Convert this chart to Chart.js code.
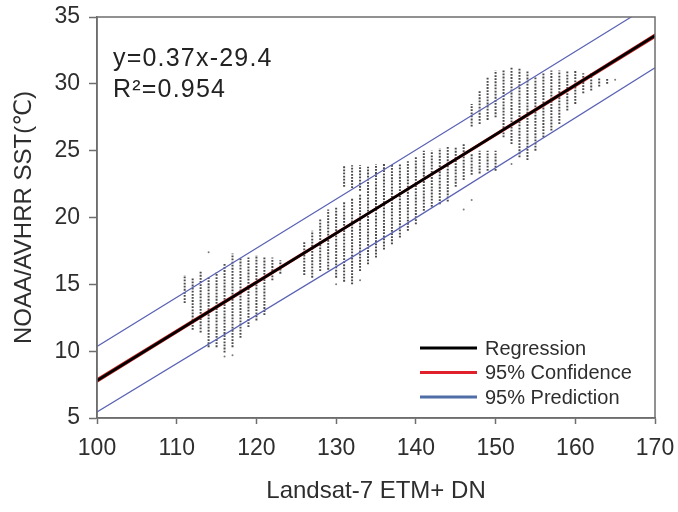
<!DOCTYPE html>
<html>
<head>
<meta charset="utf-8">
<script src="https://cdn.jsdelivr.net/npm/chart.js@4/dist/chart.umd.min.js"></script>
<style>
  html, body { margin: 0; padding: 0; background: #fff; }
  #wrap { width: 678px; height: 512px; }
</style>
</head>
<body>
<div id="wrap"><canvas id="sst_chart" width="678" height="512"></canvas></div>
<script>
// axis ranges
const xRange = [100, 170];
const yRange = [5, 35];

// dotted columns of samples: DN value, lowest and highest SST in that column
const colX = [111, 112, 113, 114, 115, 116, 117, 118, 119, 120, 121, 122, 123,
  126, 127, 128, 129, 130, 131, 131, 132, 132, 133, 133, 134, 135, 136, 137, 138, 139, 140,
  141, 142, 143, 144, 145, 146, 147, 147, 148, 148, 149, 149, 150, 150,
  151, 152, 153, 154, 155, 156, 157, 158, 159, 160, 161, 162, 163, 164];
const colLo = [13.6, 11.6, 11.4, 10.3, 10.3, 9.9, 10.3, 11.0, 11.8, 12.3, 12.7, 15.3, 15.8,
  15.7, 15.5, 16.0, 16.1, 15.5, 15.2, 22.3, 15.0, 22.2, 16.0, 22.0, 16.5, 17.0, 17.6, 18.0, 18.5, 19.0, 19.5,
  20.5, 20.8, 21.0, 21.2, 22.3, 22.8, 23.2, 26.8, 23.3, 27.0, 23.5, 27.3, 23.5, 27.5,
  26.0, 25.5, 24.5, 24.3, 25.0, 26.0, 26.5, 27.0, 28.0, 28.5, 29.3, 29.5, 29.8, 30.0];
const colHi = [15.7, 15.5, 16.0, 15.5, 15.9, 16.6, 17.3, 17.0, 17.0, 17.2, 17.0, 17.0, 16.8,
  18.2, 19.0, 19.9, 20.6, 20.8, 21.2, 23.9, 21.5, 23.9, 21.8, 23.9, 23.8, 24.0, 24.0, 24.0, 24.0, 24.2, 24.5,
  25.0, 25.0, 25.2, 25.3, 25.3, 25.5, 24.8, 28.5, 25.0, 29.5, 25.0, 30.5, 25.0, 31.0,
  31.0, 31.2, 31.2, 31.0, 30.5, 30.8, 31.0, 31.0, 31.0, 31.0, 30.8, 30.8, 30.5, 30.4];

// isolated points
const strayX = [116, 117, 114, 130, 133, 141, 146, 147, 152, 165];
const strayY = [9.6, 9.7, 17.4, 15.0, 15.3, 23.3, 20.6, 21.3, 24.0, 30.3];

// fitted lines (ends and middle)
const fitX = [100, 137, 170];
const regY = [7.8, 21.4, 33.6];
const confHiY = [7.93, 21.46, 33.73];
const confLoY = [7.67, 21.34, 33.47];
const predHiY = [10.35, 23.95, 36.1];
const predLoY = [5.45, 18.85, 31.2];

const legendItems = ["Regression", "95% Confidence", "95% Prediction"];
const legendColors = ["#000000", "#e0202a", "#4f6ea6"];

const axisColor = "#6e6e6e";
const textColor = "#2e2e2e";
const predColor = "#5a62b4";
const fontFamily = "'Liberation Sans', Arial, 'DejaVu Sans', sans-serif";

const toPoints = (xs, ys) => xs.map((x, i) => ({ x: x, y: ys[i] }));

const lineSet = (ys, color, width) => ({
  data: toPoints(fitX, ys),
  showLine: true,
  borderColor: color,
  borderWidth: width,
  pointRadius: 0,
  fill: false,
});

const columnSets = colX.map((x, i) => ({
  data: [{ x: x, y: colLo[i] }, { x: x, y: colHi[i] }],
  showLine: true,
  borderColor: "rgba(55,55,55,0.9)",
  borderWidth: 2,
  borderDash: [1.8, 1.3],
  pointRadius: 0,
  order: 10,
}));

const boxAndText = {
  id: "boxAndText",
  afterDraw(chart) {
    const { ctx, chartArea } = chart;
    ctx.save();
    ctx.strokeStyle = axisColor;
    ctx.lineWidth = 1.5;
    ctx.strokeRect(chartArea.left, chartArea.top,
      chartArea.right - chartArea.left, chartArea.bottom - chartArea.top);

    // equation
    ctx.fillStyle = "#222";
    ctx.font = "25px " + fontFamily;
    ctx.textBaseline = "alphabetic";
    ctx.textAlign = "left";
    if ("letterSpacing" in ctx) ctx.letterSpacing = "1.2px";
    ctx.fillText("y=0.37x-29.4", 113, 66);
    ctx.fillText("R\u00B2=0.954", 113, 97);
    if ("letterSpacing" in ctx) ctx.letterSpacing = "0px";

    // legend
    ctx.font = "20px " + fontFamily;
    ctx.textBaseline = "middle";
    legendItems.forEach((label, i) => {
      const y = 348 + i * 24.5;
      ctx.strokeStyle = legendColors[i];
      ctx.lineWidth = 3;
      ctx.beginPath();
      ctx.moveTo(420, y);
      ctx.lineTo(477, y);
      ctx.stroke();
      ctx.fillStyle = textColor;
      ctx.fillText(label, 485, y + 1);
    });
    ctx.restore();
  },
};

const ctx = document.getElementById("sst_chart").getContext("2d");
new Chart(ctx, {
  type: "scatter",
  data: {
    datasets: [
      { ...lineSet(regY, "#000000", 2.6), order: 0 },
      { ...lineSet(confHiY, "#c81e1e", 1.3), order: 1 },
      { ...lineSet(confLoY, "#c81e1e", 1.3), order: 1 },
      { ...lineSet(predHiY, predColor, 1.2), order: 2 },
      { ...lineSet(predLoY, predColor, 1.2), order: 2 },
      {
        data: toPoints(strayX, strayY),
        pointRadius: 1,
        pointBackgroundColor: "rgba(90,90,90,0.8)",
        pointBorderWidth: 0,
        order: 11,
      },
      ...columnSets,
    ],
  },
  options: {
    responsive: false,
    animation: false,
    events: [],
    layout: {
      padding: { top: 17, right: 23, left: 0, bottom: 0 },
    },
    plugins: {
      legend: { display: false },
      tooltip: { enabled: false },
    },
    scales: {
      x: {
        type: "linear",
        min: xRange[0],
        max: xRange[1],
        afterFit: (scale) => {
          scale.height = 94;
          scale.paddingLeft = 0;
          scale.paddingRight = 0;
        },
        border: { display: true, color: axisColor, width: 1.5 },
        grid: { drawOnChartArea: false, tickLength: 6, color: axisColor, tickWidth: 1.5 },
        ticks: {
          stepSize: 10,
          color: textColor,
          padding: 11,
          font: { family: fontFamily, size: 23 },
          maxRotation: 0,
        },
        title: {
          display: true,
          text: "Landsat-7 ETM+ DN",
          color: textColor,
          font: { family: fontFamily, size: 24 },
          padding: { top: 0, bottom: 6 },
        },
      },
      y: {
        type: "linear",
        min: yRange[0],
        max: yRange[1],
        afterFit: (scale) => {
          scale.width = 97;
          scale.paddingTop = 0;
          scale.paddingBottom = 0;
        },
        border: { display: true, color: axisColor, width: 1.5 },
        grid: { drawOnChartArea: false, tickLength: 8, color: axisColor, tickWidth: 1.5 },
        ticks: {
          stepSize: 5,
          color: textColor,
          padding: 9,
          font: { family: fontFamily, size: 23 },
        },
        title: {
          display: true,
          text: "NOAA/AVHRR SST(\u2103)",
          color: textColor,
          font: { family: fontFamily, size: 24 },
          padding: { top: 10, bottom: 0 },
        },
      },
    },
  },
  plugins: [boxAndText],
});
</script>
</body>
</html>
